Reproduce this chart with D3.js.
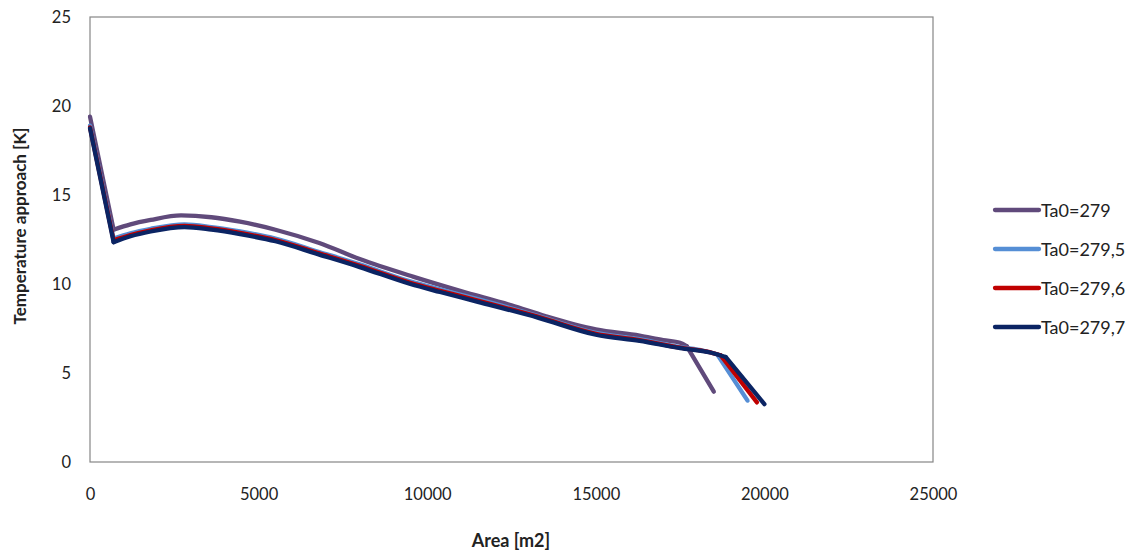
<!DOCTYPE html>
<html><head><meta charset="utf-8">
<script src="https://cdn.jsdelivr.net/npm/d3@7"></script>
<style>body{margin:0;background:#fff;} text{font-family:Lato,"Open Sans",sans-serif;}</style>
</head><body>
<svg id="c" width="1143" height="556"></svg>
<script>
const seriesNames = ["Ta0=279", "Ta0=279,5", "Ta0=279,6", "Ta0=279,7"];
const seriesColors = ["#604A7B", "#558ED5", "#C00000", "#0B2463"];
const s279 = [[0,19.4],[700,13.05],[1200,13.35],[1800,13.6],[2700,13.85],[3600,13.75],[4450,13.5],[5500,13.05],[6800,12.3],[8000,11.4],[9600,10.4],[11000,9.6],[12500,8.8],[13500,8.2],[15000,7.45],[16300,7.1],[17000,6.85],[17500,6.7],[17700,6.5],[18500,3.95]];
const s2795 = [[0,18.9],[700,12.55],[1200,12.85],[1800,13.1],[2800,13.35],[3600,13.2],[4450,12.95],[5500,12.55],[6800,11.8],[8000,11.1],[9500,10.15],[10380,9.7],[11500,9.15],[13300,8.2],[15000,7.25],[16300,6.9],[17500,6.45],[18200,6.25],[18600,6.05],[19500,3.45]];
const s2796 = [[0,18.8],[700,12.45],[1200,12.75],[1800,13.02],[2800,13.27],[3600,13.12],[4450,12.87],[5500,12.47],[6800,11.72],[8000,11.02],[9500,10.07],[10380,9.62],[11500,9.07],[13300,8.15],[15000,7.2],[16300,6.85],[17500,6.42],[18300,6.2],[18700,6.0],[19780,3.35]];
const s2797 = [[0,18.75],[700,12.35],[1200,12.68],[1800,12.95],[2800,13.2],[3600,13.05],[4450,12.8],[5500,12.4],[6800,11.65],[8000,10.95],[9500,10.0],[10380,9.55],[11500,9.0],[13300,8.1],[15000,7.15],[16300,6.8],[17500,6.4],[18400,6.15],[18850,5.9],[20000,3.25]];
const seriesData = [s279, s2795, s2796, s2797];
const xTicks = [0,5000,10000,15000,20000,25000];
const yTicks = [0,5,10,15,20,25];

const svg = d3.select("#c");
const L=90, R=933, T=17, B=462;
const x = d3.scaleLinear().domain([0,25000]).range([L,R]);
const y = d3.scaleLinear().domain([0,25]).range([B,T]);

svg.append("rect").attr("x",L).attr("y",T).attr("width",R-L).attr("height",B-T)
  .attr("fill","none").attr("stroke","#868686").attr("stroke-width",1.2);

const xa = svg.append("g").attr("transform",`translate(0,${B})`)
  .call(d3.axisBottom(x).tickValues(xTicks).tickFormat(d3.format("d")).tickSize(0).tickPadding(26));
xa.select(".domain").remove();
xa.selectAll("text").attr("font-size",16.5).attr("fill","#222").style("font-family","Lato,'Open Sans',sans-serif");

const ya = svg.append("g").attr("transform",`translate(${L},0)`)
  .call(d3.axisLeft(y).tickValues(yTicks).tickSize(0).tickPadding(19));
ya.select(".domain").remove();
ya.selectAll("text").attr("font-size",16.5).attr("fill","#222").style("font-family","Lato,'Open Sans',sans-serif");

const lin = d3.line().x(d=>x(d[0])).y(d=>y(d[1])).curve(d3.curveLinear);
const smooth = d3.line().x(d=>x(d[0])).y(d=>y(d[1])).curve(d3.curveMonotoneX);
// sharp corners at the first kink and before the final drop; smooth elsewhere
const kinkIdx = [0, 1];
seriesData.forEach((s,i)=>{
  const n = s.length;
  const parts = [
    {pts: s.slice(0,2), gen: lin},
    {pts: s.slice(1,n-1), gen: smooth},
    {pts: s.slice(n-2), gen: lin}
  ];
  parts.forEach(p=>{
    svg.append("path").attr("d",p.gen(p.pts)).attr("fill","none")
      .attr("stroke",seriesColors[i]).attr("stroke-width",4.3)
      .attr("stroke-linejoin","round").attr("stroke-linecap","round");
  });
});

svg.append("text").attr("x",511).attr("y",547).attr("text-anchor","middle")
  .attr("font-size",18).attr("font-weight","bold").attr("fill","#222").text("Area [m2]");
svg.append("text").attr("transform","translate(26,226) rotate(-90)").attr("text-anchor","middle")
  .attr("font-size",17).attr("font-weight","bold").attr("fill","#222").text("Temperature approach  [K]");

const lg = svg.append("g");
seriesNames.forEach((n,i)=>{
  const yy = 210 + i*39;
  lg.append("line").attr("x1",995).attr("x2",1039).attr("y1",yy).attr("y2",yy)
    .attr("stroke",seriesColors[i]).attr("stroke-width",4.3).attr("stroke-linecap","round");
  lg.append("text").attr("x",1041).attr("y",yy+6.5).attr("font-size",18).attr("fill","#222").text(n);
});
</script>
</body></html>
